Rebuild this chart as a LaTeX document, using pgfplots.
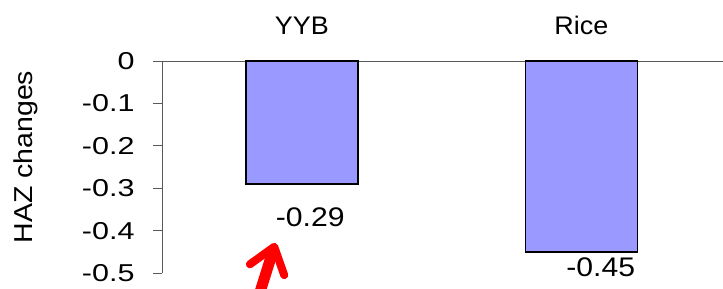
\documentclass[border=0pt]{standalone}
\usepackage{pgfplots}
\pgfplotsset{compat=1.18}
\usepackage{fontspec}
\setmainfont{Liberation Sans}
\newfontfamily\tickfont{Liberation Sans}[FakeStretch=1.25]
\newfontfamily\valfont{Liberation Sans}[FakeStretch=1.12]
\newfontfamily\catfont{Liberation Sans}[FakeStretch=1.06]
\newfontfamily\labfont{Liberation Sans}[FakeStretch=1.1]
\usetikzlibrary{arrows.meta}
\definecolor{barfill}{HTML}{9999FF}
\definecolor{axisgray}{HTML}{5A5A5A}
\begin{document}
\begin{tikzpicture}[font=\fontsize{26}{30}\selectfont]
\begin{axis}[
  name=ax,
  scale only axis,
  width=562bp, height=212bp,
  xmin=-0.5, xmax=1.51,
  ymin=-0.5, ymax=0,
  clip=false,
  axis x line*=top,
  axis y line*=left,
  axis line style={axisgray, line width=0.8bp},
  x axis line style={-},
  y axis line style={-},
  xtick={0,1},
  xticklabels={YYB,Rice},
  major x tick style={draw=none},
  extra x ticks={-0.5,0.5},
  extra x tick labels={},
  extra x tick style={tick style={axisgray, line width=0.8bp}, major tick length=9bp, tick align=outside},
  xticklabel style={yshift=14bp, font=\catfont\fontsize{25.5}{30}\selectfont},
  ytick={0,-0.1,-0.2,-0.3,-0.4,-0.5},
  yticklabels={0,-0.1,-0.2,-0.3,-0.4,-0.5},
  ytick style={axisgray, line width=0.8bp},
  major tick length=9bp,
  tick align=outside,
  yticklabel style={xshift=-15bp, font=\tickfont\fontsize{24.5}{30}\selectfont},
  ylabel={HAZ changes},
  ylabel style={at={(axis description cs:-0.242,0.547)}, anchor=center, font=\labfont\fontsize{26}{30}\selectfont},
  ybar,
  bar width=112bp,
]
\addplot[fill=barfill, draw=black, line width=1.6bp] coordinates {(0,-0.29) (1,-0.45)};
\node[anchor=base, font=\valfont\fontsize{27}{30}\selectfont] at (axis cs:0.030,-0.3915) {-0.29};
\node[anchor=base, font=\valfont\fontsize{27}{30}\selectfont] at (axis cs:1.069,-0.5094) {-0.45};
\draw[red, line width=11bp, -{Straight Barb[round, line width=8bp, length=24bp, width=36bp]}] (axis cs:-0.1584,-0.5637) -- (axis cs:-0.0943,-0.4292);
\end{axis}
\pgfresetboundingbox
\path[use as bounding box] (ax.south west) ++(-162bp,-16bp) rectangle ++(723bp,289bp);
\end{tikzpicture}
\end{document}
